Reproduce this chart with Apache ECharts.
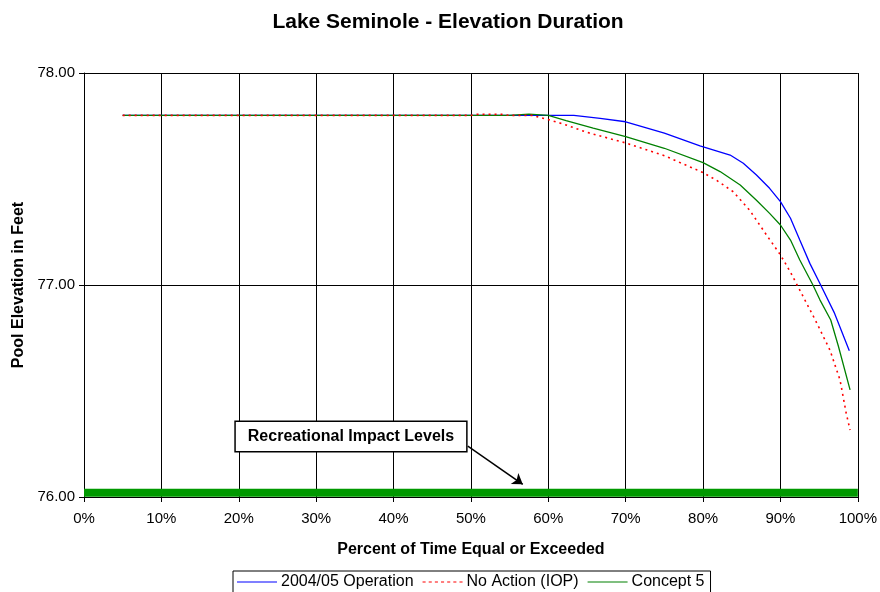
<!DOCTYPE html>
<html>
<head>
<meta charset="utf-8">
<script src="https://cdn.jsdelivr.net/npm/echarts@6/dist/echarts.min.js"></script>
<style>
  html, body { margin: 0; padding: 0; background: #fff; }
  #chart { width: 880px; height: 592px; }
</style>
</head>
<body>
<div id="chart"></div>
<script>
// Percent of time equal or exceeded (x) and pool elevation in feet (y)
const opPct   = [5, 10, 20, 30, 40, 50, 55, 60, 63.3, 66.7, 70, 75, 79.6, 83.5, 85.2, 86.9, 88.6, 90, 91.3, 92.5, 93.8, 95.2, 97.0, 98.9];
const opElev  = [77.80, 77.80, 77.80, 77.80, 77.80, 77.80, 77.80, 77.80, 77.80, 77.786, 77.77, 77.716, 77.656, 77.613, 77.574, 77.519, 77.456, 77.393, 77.315, 77.212, 77.102, 77.00, 76.866, 76.69];

const iopPct  = [5, 10, 20, 30, 40, 50, 50.5, 54, 55, 58, 58.9, 60, 61.9, 65, 68, 70, 75, 80, 81.7, 83.9, 86, 88.2, 90, 91.3, 92.5, 94.5, 96.4, 97.7, 98.5, 99];
const iopElev = [77.80, 77.80, 77.80, 77.80, 77.80, 77.80, 77.805, 77.805, 77.80, 77.80, 77.79, 77.78, 77.76, 77.72, 77.69, 77.67, 77.61, 77.53, 77.495, 77.44, 77.354, 77.236, 77.142, 77.06, 76.976, 76.835, 76.693, 76.552, 76.395, 76.316];

const c5Pct   = [5, 10, 20, 30, 40, 50, 55, 57.5, 60, 62.3, 65.8, 70, 75, 80, 82.2, 84.8, 86.9, 88.6, 90, 91.3, 92.5, 94.2, 95.1, 96.5, 97.5, 99];
const c5Elev  = [77.80, 77.80, 77.80, 77.80, 77.80, 77.80, 77.80, 77.806, 77.80, 77.775, 77.74, 77.70, 77.645, 77.577, 77.535, 77.472, 77.40, 77.338, 77.283, 77.212, 77.118, 77.00, 76.93, 76.835, 76.71, 76.505];

// Recreational impact level band
const impactPct  = [0, 100];
const impactElev = [76.02, 76.02];

const seriesNames = ['2004/05 Operation', 'No Action (IOP)', 'Concept 5'];
const xTicks = [0, 10, 20, 30, 40, 50, 60, 70, 80, 90, 100];
const yTicks = [76, 77, 78];

const zip = (xs, ys) => xs.map((x, i) => [x, ys[i]]);
const FONT = 'Liberation Sans, Arial, sans-serif';

// legend line samples: a solid bar and a row of short dashes
const solidIcon = 'path://M0,0H40V1H0Z';
let dotted = '';
for (let i = 0; i < 40; i += 6) dotted += 'M' + i + ',0H' + (i + 3) + 'V1H' + i + 'Z';
const dottedIcon = 'path://' + dotted;

const chart = echarts.init(document.getElementById('chart'), null, { renderer: 'canvas' });
chart.setOption({
  animation: false,
  backgroundColor: '#fff',
  textStyle: { fontFamily: FONT },
  title: {
    text: 'Lake Seminole - Elevation Duration',
    left: 443, top: 7, textAlign: 'center',
    textStyle: { fontFamily: FONT, fontSize: 21, fontWeight: 'bold', color: '#000' }
  },
  grid: { left: 84, right: 22, top: 73, bottom: 95, containLabel: false },
  xAxis: {
    type: 'value', min: xTicks[0], max: xTicks[xTicks.length - 1], interval: 10,
    name: 'Percent of Time Equal or Exceeded', nameLocation: 'middle', nameGap: 45,
    nameTextStyle: { fontFamily: FONT, fontSize: 16, fontWeight: 'bold', color: '#000' },
    axisLine: { show: true, lineStyle: { color: '#000', width: 1 } },
    axisTick: { show: true, length: 5, inside: false, lineStyle: { color: '#000' } },
    axisLabel: { formatter: v => v + '%', fontFamily: FONT, fontSize: 15, color: '#000', margin: 14 },
    splitLine: { show: true, lineStyle: { color: '#000', width: 1 } }
  },
  yAxis: {
    type: 'value', min: yTicks[0], max: yTicks[yTicks.length - 1], interval: 1,
    name: 'Pool Elevation in Feet', nameLocation: 'middle', nameGap: 53, nameRotate: 90,
    nameTextStyle: { fontFamily: FONT, fontSize: 16, fontWeight: 'bold', color: '#000' },
    axisLine: { show: true, lineStyle: { color: '#000', width: 1 } },
    axisTick: { show: true, length: 5, lineStyle: { color: '#000' } },
    axisLabel: { formatter: v => v.toFixed(2), fontFamily: FONT, fontSize: 15, color: '#000', margin: 9 },
    splitLine: { show: true, lineStyle: { color: '#000', width: 1 } }
  },
  legend: {
    data: [
      { name: seriesNames[0], icon: solidIcon },
      { name: seriesNames[1], icon: dottedIcon },
      { name: seriesNames[2], icon: solidIcon }
    ],
    top: 571, left: 233,
    orient: 'horizontal',
    borderColor: '#000', borderWidth: 1, borderRadius: 0,
    padding: [3, 6, 5, 4],
    itemGap: 9, itemWidth: 40, itemHeight: 2,
    textStyle: { fontFamily: FONT, fontSize: 16, color: '#000', padding: [0, 0, 0, -1] }
  },
  series: [
    {
      name: 'impact', type: 'line', data: zip(impactPct, impactElev),
      symbol: 'none', silent: true, z: 1,
      lineStyle: { color: '#009900', width: 8 },
      markLine: {
        silent: true, symbol: ['none', 'arrow'], symbolSize: 10,
        lineStyle: { color: '#000', width: 1.5, type: 'solid' },
        label: { show: false },
        data: [[{ coord: [49.6, 76.24] }, { coord: [56.7, 76.06] }]]
      },
      markPoint: {
        silent: true, symbol: 'rect', symbolSize: 0,
        label: {
          show: true, formatter: 'Recreational Impact Levels',
          fontFamily: FONT, fontSize: 16, fontWeight: 'bold', color: '#000',
          backgroundColor: '#fff', borderColor: '#000', borderWidth: 1.5,
          padding: [7, 12, 6, 12], position: 'inside'
        },
        data: [{ coord: [34.5, 76.285] }]
      }
    },
    {
      name: seriesNames[0], type: 'line', data: zip(opPct, opElev),
      symbol: 'none', smooth: false, z: 3,
      itemStyle: { color: '#0000ff' },
      lineStyle: { color: '#0000ff', width: 1.3 }
    },
    {
      name: seriesNames[1], type: 'line', data: zip(iopPct, iopElev),
      symbol: 'none', smooth: false, z: 4,
      itemStyle: { color: '#ff0000' },
      lineStyle: { color: '#ff0000', width: 1.6, type: [2, 4] }
    },
    {
      name: seriesNames[2], type: 'line', data: zip(c5Pct, c5Elev),
      symbol: 'none', smooth: false, z: 3,
      itemStyle: { color: '#008000' },
      lineStyle: { color: '#008000', width: 1.3 }
    }
  ]
});
</script>
</body>
</html>
